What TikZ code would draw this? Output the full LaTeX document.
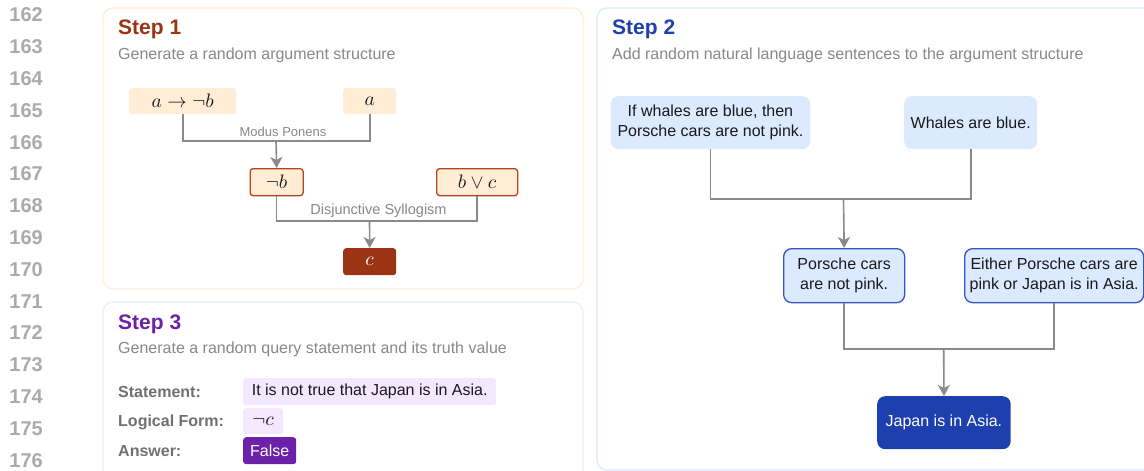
\documentclass[tikz,border=0pt]{standalone}
\usepackage{fontspec}
\setmainfont{Liberation Sans}
\usetikzlibrary{arrows.meta}
\newcommand{\myfs}[2]{\fontsize{#1}{#2}\selectfont}
\newcommand{\lmath}[1]{\scalebox{1.95}{\fontsize{10}{12}\selectfont$#1$}}
\definecolor{orlight}{HTML}{FFEDD5}
\definecolor{orborder}{HTML}{B4461F}
\definecolor{ordark}{HTML}{9A3412}
\definecolor{bllight}{HTML}{DBEAFE}
\definecolor{blborder}{HTML}{3355C5}
\definecolor{bldark}{HTML}{1E40AF}
\definecolor{pulight}{HTML}{F3E8FF}
\definecolor{pudark}{HTML}{6B21A8}
\definecolor{numgray}{HTML}{ABABAB}
\definecolor{subgray}{HTML}{888888}
\definecolor{labgray}{HTML}{707070}
\definecolor{conngray}{HTML}{8A8A8A}
\definecolor{txt}{HTML}{1A1A1A}
\begin{document}
\begin{tikzpicture}[x=1pt,y=-1pt,
  linenum/.style={anchor=east,inner sep=0pt,text=numgray,font=\myfs{20}{22}\bfseries},
  panel/.style={rounded corners=10pt,line width=1.2pt},
  steptitle/.style={anchor=base west,inner sep=0pt,font=\myfs{21}{24}\bfseries},
  subtitle/.style={anchor=base west,inner sep=0pt,text=subgray,font=\myfs{16}{20}},
  logic/.style={anchor=north west,fill=orlight,rounded corners=3pt,inner sep=0pt,text=txt},
  logicb/.style={logic,draw=orborder,line width=1.3pt},
  sent/.style={anchor=north west,fill=bllight,rounded corners=8pt,inner sep=0pt,align=center,text=txt,font=\myfs{16}{20}},
  sentb/.style={sent,draw=blborder,line width=1.3pt},
  rulelabel/.style={anchor=base,inner sep=0pt,text=subgray},
  conn/.style={draw=conngray,line width=1.6pt},
  arr/.style={conn,-{Stealth[length=11pt,width=12pt,inset=3pt]}},
  qlabel/.style={anchor=base west,inner sep=0pt,text=labgray,font=\myfs{16}{20}\bfseries},
  qbox/.style={anchor=north west,fill=pulight,rounded corners=3pt,inner sep=0pt,text=txt,font=\myfs{16}{20}}
]
\useasboundingbox (0,0) rectangle (1144,471);
\clip (0,0) rectangle (1144,471);
\fill[white] (0,0) rectangle (1144,471);

% line numbers
\foreach \n [count=\i from 0] in {162,...,176}
  \node[linenum] (ln\n) at (43,{15+\i*31.8}) {\n};

% panels
\draw[panel,draw=orlight] (103,8) rectangle (583,289);
\draw[panel,draw=bllight] (597,8) rectangle (1170,470);
\draw[panel,draw=pulight] (103,302) rectangle (583,500);

% Step 1
\node[steptitle,text=ordark] (t1) at (118,34.5) {Step 1};
\node[subtitle] (s1) at (118,59) {Generate a random argument structure};

\node[logic,minimum width=107pt,minimum height=26pt] (n1) at (129,88) {\lmath{a\to\neg b}};
\node[logic,minimum width=53pt,minimum height=26pt] (n2) at (343,88) {\lmath{a}};
\node[logicb,minimum width=53pt,minimum height=27pt] (n3) at (249.5,168) {\lmath{\neg b}};
\node[logicb,minimum width=81pt,minimum height=27pt] (n4) at (436,168) {\lmath{b\vee c}};
\node[logic,fill=ordark,text=white,minimum width=53pt,minimum height=27pt] (n5) at (343,248) {\lmath{c}};

\coordinate (j1) at (276,141);
\coordinate (j2) at (369.5,221);
\draw[conn] (n1.south) |- (j1) -| (n2.south);
\draw[arr] (j1) -- (n3.north);
\draw[conn] (n3.south) |- (j2) -| (n4.south);
\draw[arr] (j2) -- (n5.north);
\node[rulelabel,font=\myfs{13}{15}] (mp) at (283,136.5) {Modus Ponens};
\node[rulelabel,font=\myfs{14.5}{17}] (ds) at (378.5,214) {Disjunctive Syllogism};

% Step 2
\node[steptitle,text=bldark] (t2) at (612,34.5) {Step 2};
\node[subtitle] (s2) at (612,59) {Add random natural language sentences to the argument structure};

\node[sent,minimum width=199.5pt,minimum height=53pt] (m1) at (610.5,96) {If whales are blue, then\\Porsche cars are not pink.};
\node[sent,minimum width=133pt,minimum height=53pt] (m2) at (904,96) {Whales are blue.};
\node[sentb,minimum width=121pt,minimum height=54pt] (m3) at (783,248) {Porsche cars\\are not pink.};
\node[sentb,minimum width=179pt,minimum height=54pt] (m4) at (964,248) {Either Porsche cars are\\pink or Japan is in Asia.};
\node[sent,fill=bldark,text=white,minimum width=133.5pt,minimum height=53pt] (m5) at (877,396) {Japan is in Asia.};

\coordinate (k1) at (843.5,199);
\coordinate (k2) at (943.7,348.7);
\draw[conn] (m1.south) |- (k1) -| (m2.south);
\draw[arr] (k1) -- (m3.north);
\draw[conn] (m3.south) |- (k2) -| (m4.south);
\draw[arr] (k2) -- (m5.north);

% Step 3
\node[steptitle,text=pudark] (t3) at (118,329) {Step 3};
\node[subtitle] (s3) at (118,353.5) {Generate a random query statement and its truth value};

\node[qlabel] (l1) at (118,397) {Statement:};
\node[qlabel] (l2) at (118,426) {Logical Form:};
\node[qlabel] (l3) at (118,456) {Answer:};
\node[qbox,minimum width=253pt,minimum height=27pt] (q1) at (243,378) {It is not true that Japan is in Asia.};
\node[qbox,minimum width=40pt,minimum height=26pt] (q2) at (243,408) {\lmath{\neg c}};
\node[qbox,fill=pudark,text=white,minimum width=53pt,minimum height=27pt] (q3) at (243,437) {False};
\end{tikzpicture}
\end{document}
